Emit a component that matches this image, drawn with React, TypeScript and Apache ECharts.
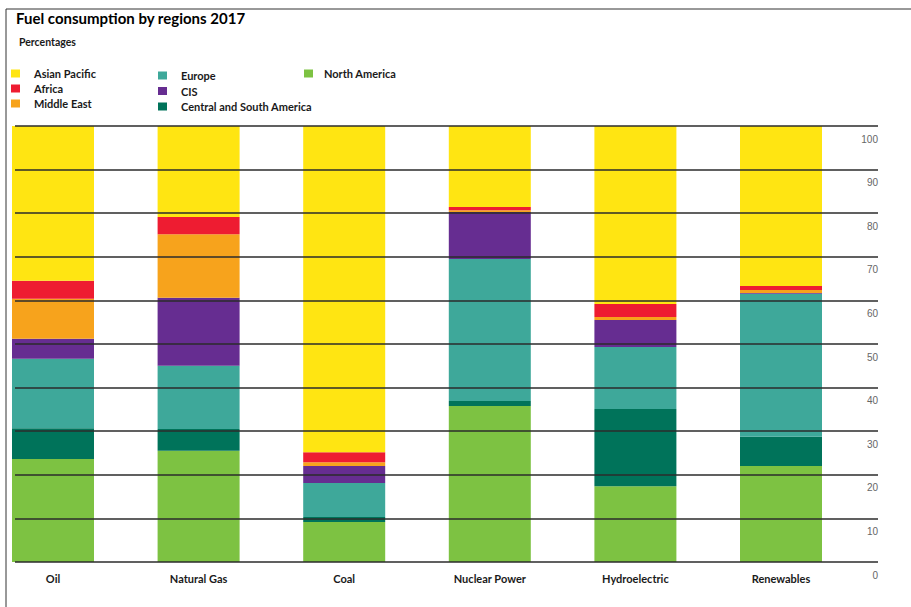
import React, { useEffect, useRef } from "react";
import * as echarts from "echarts";

const categories = ["Oil", "Natural Gas", "Coal", "Nuclear Power", "Hydroelectric", "Renewables"];
const northAmerica = [23.6, 25.5, 9.2, 35.8, 17.4, 22.0];
const centralSouthAmerica = [7.1, 5.0, 1.1, 1.1, 17.7, 6.7];
const europe = [15.9, 14.5, 7.8, 32.6, 14.2, 32.8];
const cis = [4.6, 15.6, 3.9, 10.8, 6.2, 0.2];
const middleEast = [9.2, 14.6, 0.9, 0.4, 0.7, 0.7];
const africa = [4.1, 3.9, 2.3, 0.7, 3.0, 0.9];
const asianPacific = [35.5, 20.9, 74.8, 18.6, 40.8, 36.7];

const FONT = "Lato";

export default function App() {
  const ref = useRef<HTMLDivElement>(null);
  useEffect(() => {
    if (!ref.current) return;
    const chart = echarts.init(ref.current, undefined, { renderer: "svg" });
    const seriesDefs = [
      { name: "North America", data: northAmerica, color: "#7DC242" },
      { name: "Central and South America", data: centralSouthAmerica, color: "#00735A" },
      { name: "Europe", data: europe, color: "#3EA89A" },
      { name: "CIS", data: cis, color: "#662D91" },
      { name: "Middle East", data: middleEast, color: "#F7A31C" },
      { name: "Africa", data: africa, color: "#EE1C31" },
      { name: "Asian Pacific", data: asianPacific, color: "#FFE512" },
    ];
    const legendText = (pad: number) => ({
      fontFamily: FONT,
      fontSize: 11,
      fontWeight: "bold" as const,
      color: "#1a1a1a",
      lineHeight: 15,
      padding: [0, 0, 0, pad],
    });
    chart.setOption({
      animation: false,
      backgroundColor: "#ffffff",
      title: [
        {
          text: "Fuel consumption by regions 2017",
          left: 16,
          top: 10,
          padding: 0,
          textStyle: { fontFamily: FONT, fontSize: 15, fontWeight: "bold", color: "#000" },
        },
        {
          text: "Percentages",
          left: 19,
          top: 36,
          padding: 0,
          textStyle: { fontFamily: FONT, fontSize: 10.5, fontWeight: "bold", color: "#1a1a1a" },
        },
      ],
      legend: [
        {
          orient: "vertical",
          left: 11,
          top: 66,
          padding: 0,
          icon: "rect",
          itemWidth: 9,
          itemHeight: 8,
          itemGap: 0,
          data: ["Asian Pacific", "Africa", "Middle East"],
          textStyle: legendText(9),
          selectedMode: false,
        },
        {
          orient: "vertical",
          left: 158,
          top: 68,
          padding: 0,
          icon: "rect",
          itemWidth: 9,
          itemHeight: 8,
          itemGap: 0.5,
          data: ["Europe", "CIS", "Central and South America"],
          textStyle: legendText(9),
          selectedMode: false,
        },
        {
          orient: "vertical",
          left: 304,
          top: 66,
          padding: 0,
          icon: "rect",
          itemWidth: 9,
          itemHeight: 8,
          data: ["North America"],
          textStyle: legendText(6),
          selectedMode: false,
        },
      ],
      grid: [
        { left: 53, right: 130, top: 126, bottom: 45 },
        { left: 15, right: 33, top: 126, bottom: 45 },
      ],
      xAxis: [
        {
          type: "category",
          gridIndex: 0,
          data: categories,
          boundaryGap: false,
          axisLine: { show: false },
          axisTick: { show: false },
          splitLine: { show: false },
          axisLabel: {
            margin: 11,
            interval: 0,
            fontFamily: FONT,
            fontSize: 11,
            fontWeight: "bold",
            color: "#1a1a1a",
          },
        },
        { type: "value", gridIndex: 1, min: 0, max: 1, show: false },
      ],
      yAxis: [
        { type: "value", gridIndex: 0, min: 0, max: 100, show: false },
        {
          type: "value",
          gridIndex: 1,
          min: 0,
          max: 100,
          interval: 10,
          position: "right",
          z: 10,
          axisLine: { show: false },
          axisTick: { show: false },
          splitLine: { show: true, lineStyle: { color: "#2b2b2b", width: 1.5 } },
          axisLabel: {
            inside: true,
            margin: 0,
            verticalAlign: "top",
            padding: [8, 0, 0, 0],
            fontFamily: "Liberation Sans",
            fontSize: 10,
            color: "#666",
          },
        },
      ],
      series: seriesDefs.map((s) => ({
        name: s.name,
        type: "bar",
        stack: "total",
        xAxisIndex: 0,
        yAxisIndex: 0,
        barWidth: 82,
        clip: false,
        data: s.data,
        itemStyle: { color: s.color },
        emphasis: { disabled: true },
      })),
      graphic: [
        { type: "line", shape: { x1: 6, y1: 9, x2: 911, y2: 9 }, style: { stroke: "#333", lineWidth: 1 } },
        { type: "line", shape: { x1: 6, y1: 9, x2: 6, y2: 607 }, style: { stroke: "#333", lineWidth: 1 } },
      ],
    });
    return () => chart.dispose();
  }, []);
  return (
    <div
      ref={ref}
      style={{ position: "fixed", left: 0, top: 0, width: 911, height: 607 }}
    />
  );
}
